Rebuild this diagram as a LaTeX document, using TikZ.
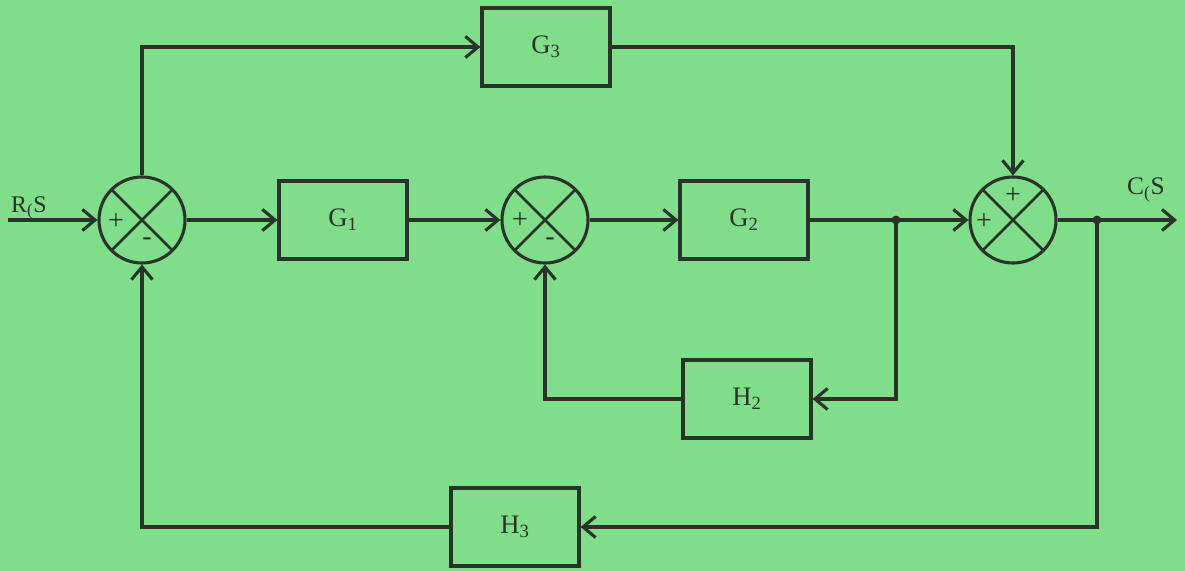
\documentclass[tikz,border=0pt]{standalone}
\usepackage{fontspec}
\setmainfont{Liberation Serif}
\usetikzlibrary{arrows.meta,calc}
\definecolor{fond}{RGB}{128,221,137}
\definecolor{trait}{RGB}{40,52,40}
\tikzset{
  bloc/.style={draw=trait, line width=2.2pt, minimum width=3.2cm, minimum height=1.95cm, text=trait, font=\fontsize{19}{21}\selectfont},
  somme/.style={draw=trait, line width=2.2pt, circle, minimum size=2.15cm, inner sep=0pt,
    path picture={\draw[trait, line width=2pt] (path picture bounding box.north west) -- (path picture bounding box.south east)
      (path picture bounding box.north east) -- (path picture bounding box.south west);}},
  signe/.style={text=trait, inner sep=0pt, font=\fontsize{20}{22}\selectfont},
}
\begin{document}
\begin{tikzpicture}[x=0.025cm, y=-0.025cm, >={Straight Barb[length=9pt,width=15pt]}, line width=2.2pt]
	% Fond
	\fill[fond] (0,0) rectangle (1185,571);
	
	% Sommateurs
	\node[somme] (s1) at (142,220) {};
	\node[somme] (s2) at (545,220) {};
	\node[somme] (s3) at (1013,220) {};
	\node[signe] (s1a) at ($(s1)+(-26,2)$) {+};
	\node[signe] (s1b) at ($(s1)+(5,22)$) {-};
	\node[signe] (s2a) at ($(s2)+(-25,1)$) {+};
	\node[signe] (s2b) at ($(s2)+(5,22)$) {-};
	\node[signe] (s3a) at ($(s3)+(0,-24)$) {+};
	\node[signe] (s3b) at ($(s3)+(-29,2)$) {+};
	
	% Blocs
	\node[bloc] (g1) at (343,220) {G\textsubscript{1}};
	\node[bloc] (g2) at (744,220) {G\textsubscript{2}};
	\node[bloc] (g3) at (546,47) {G\textsubscript{3}};
	\node[bloc] (h2) at (747,399) {H\textsubscript{2}};
	\node[bloc] (h3) at (515,527) {H\textsubscript{3}};
	
	% Entree, sortie et points de branchement
	\coordinate (entree) at (8,220);
	\coordinate (sortie) at (1177,220);
	\coordinate (n1) at (896,220);
	\coordinate (n2) at (1097,220);
	\fill[trait] (n1) circle (0.11cm);
	\fill[trait] (n2) circle (0.11cm);
	\node[text=trait, font=\fontsize{17}{19}\selectfont] (r) at (29,208) {R\textsubscript{(}S};
	\node[text=trait, font=\fontsize{18}{20}\selectfont] (c) at (1146,190) {C\textsubscript{(}S};
	
	% Chaine directe
	\draw[trait, ->] (entree) -- (s1);
	\draw[trait, ->] (s1) -- (g1);
	\draw[trait, ->] (g1) -- (s2);
	\draw[trait, ->] (s2) -- (g2);
	\draw[trait] (g2) -- (n1);
	\draw[trait, ->] (n1) -- (s3);
	\draw[trait] (s3) -- (n2);
	\draw[trait, ->] (n2) -- (sortie);
	\draw[trait, ->] (s1) |- (g3);
	\draw[trait, ->] (g3) -| (s3);
	
	% Retours
	\draw[trait, ->] (n1) |- (h2);
	\draw[trait, ->] (h2) -| (s2);
	\draw[trait, ->] (n2) |- (h3);
	\draw[trait, ->] (h3) -| (s1);
\end{tikzpicture}
\end{document}
